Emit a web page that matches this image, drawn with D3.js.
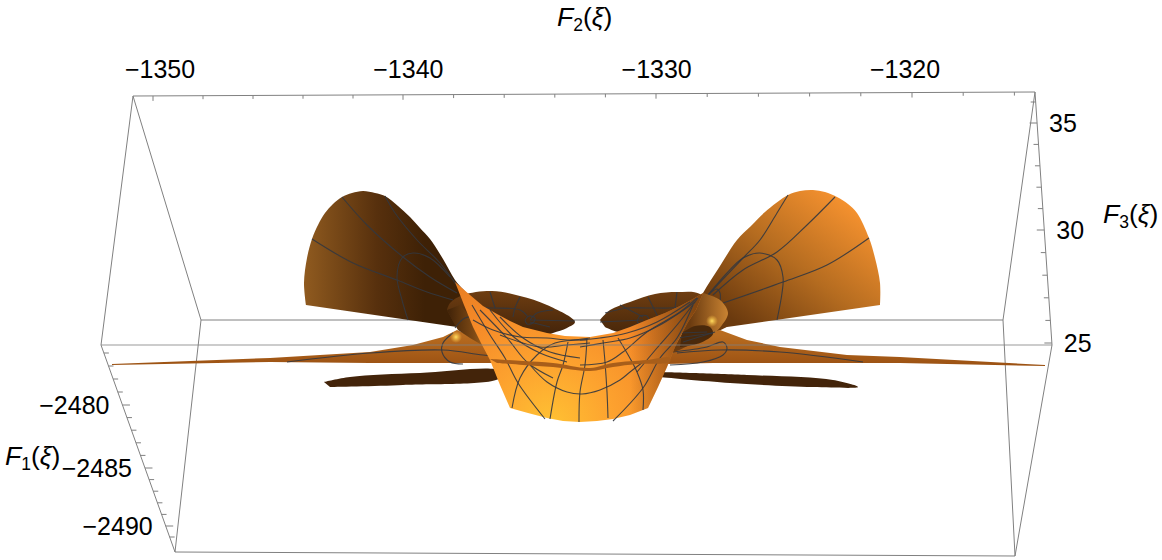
<!DOCTYPE html>
<html>
<head>
<meta charset="utf-8">
<script src="https://cdn.jsdelivr.net/npm/d3@7"></script>
<style>
  body { margin: 0; background: #fff; }
  text { font-family: "Liberation Sans", sans-serif; fill: #000; }
</style>
</head>
<body>
<div id="chart"></div>
<script>
// tick values on the three box edges
const f2Ticks = d3.range(-1350, -1315, 2)
const f2Labels = [-1350, -1340, -1330, -1320]
const f3Ticks = d3.range(25, 37)
const f3Labels = [25, 30, 35]
const f1Ticks = d3.range(-2476, -2492, -1)
const f1Labels = [-2480, -2485, -2490]

// box corners and surface pieces as [F2, F3] on the view plane
const boxA = [-1350.68, 37.2]
const boxB = [-1314.6, 37.4]
const boxC = [-1313.92, 24.75]
const boxD = [-1351.96, 24.75]
const boxE = [-1347.96, 26]
const boxF = [-1315.88, 26]
const boxG = [-1349, 14.4]
const boxH = [-1315.4, 14.2]

const leftWing = [[-1343.76,26.75],[-1343.84,27.85],[-1343.72,29.1],[-1343.52,30.05],[-1343.28,30.75],[-1343,31.35],[-1342.68,31.8],[-1342.32,32.15],[-1341.92,32.35],[-1341.48,32.45],[-1341,32.35],[-1340.6,32.2],[-1340.08,31.7],[-1339.6,31.15],[-1339.2,30.6],[-1338.8,30.05],[-1338.28,29.05],[-1337.8,28],[-1337.2,27],[-1337.4,25.75],[-1337.72,25.65]]
const rightWing = [[-1320.8,26.75],[-1320.8,27.85],[-1321,29.1],[-1321.24,30.1],[-1321.72,31.35],[-1322.08,31.8],[-1322.52,32.15],[-1323,32.4],[-1323.48,32.5],[-1324,32.45],[-1324.48,32.25],[-1325.4,31.4],[-1325.96,30.7],[-1326.52,30],[-1327.2,28.7],[-1327.88,27.35],[-1328.4,26],[-1328,25.25],[-1326.92,25.65]]
const leftDisc = [[-1338.12,26.5],[-1338,26.85],[-1337.48,27.25],[-1336.32,27.45],[-1335.2,27.2],[-1334.12,26.75],[-1333,25.9],[-1333.32,25.6],[-1333.88,25.35],[-1334.4,25.15],[-1335.2,25.25],[-1336.8,25.25],[-1337.8,25.75]]
const rightDisc = [[-1332,26],[-1331.6,26.5],[-1330.8,26.9],[-1329.8,27.3],[-1328.92,27.4],[-1328,27.3],[-1327.6,26.5],[-1328.4,25.5],[-1330,25.4],[-1331.28,25.4],[-1331.8,25.65]]
const leftTail = [[-1351.52,23.8],[-1345.2,24.1],[-1341.2,24.4],[-1339.48,24.75],[-1338.28,25.15],[-1337.72,25.5],[-1336.8,25],[-1336.2,23.85],[-1341.2,23.85],[-1345.2,23.9],[-1351.52,23.75]]
const rightTail = [[-1314.2,23.75],[-1320,24.15],[-1322.12,24.25],[-1324.8,24.65],[-1326.12,25],[-1327.2,25.5],[-1328,25.25],[-1329.2,24.75],[-1329.4,23.8],[-1327.48,23.85],[-1323.48,23.85],[-1320,23.85],[-1314.2,23.7]]
const lowerLeft = [[-1343.04,22.9],[-1342,23.15],[-1339.2,23.35],[-1336,23.45],[-1336,23.1],[-1339.88,22.75],[-1342.8,22.65]]
const lowerRight = [[-1329.6,23.4],[-1326.12,23.25],[-1322.68,23],[-1321.68,22.65],[-1323.48,22.65],[-1326.8,22.85],[-1329.6,23.15]]
const centreSheet = [[-1337.8,27.9],[-1337.2,27.25],[-1336.68,26.7],[-1336.12,26.3],[-1335.6,25.95],[-1335.08,25.65],[-1334.12,25.35],[-1333.4,25.2],[-1332.4,25.15],[-1331.48,25.35],[-1330.8,25.65],[-1330.12,26],[-1329.4,26.35],[-1328.8,26.7],[-1328.28,27.05],[-1327.88,27.35],[-1328.16,26.5],[-1328.48,25.9],[-1328.8,25.15],[-1329,24.65],[-1329.32,23.65],[-1329.68,22.65],[-1330.08,21.6],[-1330.8,21.25],[-1331.48,21.05],[-1332.12,20.95],[-1332.8,20.9],[-1333.48,20.95],[-1334.12,21.1],[-1334.88,21.35],[-1335.6,21.6],[-1336,22.75],[-1336.4,24],[-1336.76,24.85],[-1337.08,25.65],[-1337.44,26.75]]
const leftFunnel = [[-1338.12,26.5],[-1337.8,25.75],[-1337.68,25.5],[-1337.2,25.1],[-1336.72,24.75],[-1336.4,25.25],[-1337.12,26.1],[-1337.6,26.75]]
const rightFunnel = [[-1327.88,27.35],[-1327.2,27],[-1326.88,26.35],[-1327.12,25.75],[-1327.52,25.25],[-1328.4,24.75],[-1329.12,24.4],[-1328.8,25.15],[-1328.4,26.1]]
const rightHole = [[-1328.72,25.35],[-1328.2,25.7],[-1327.6,25.65],[-1327.48,25.3],[-1328,24.85],[-1328.8,24.65]]
const frontBand = [[-1336.4,24.05],[-1335.08,23.95],[-1333.88,23.85],[-1332.4,23.6],[-1331.48,23.85],[-1330.12,24],[-1329.2,24.1],[-1329.2,23.9],[-1330.52,23.8],[-1331.48,23.65],[-1332.4,23.45],[-1333.88,23.65],[-1335.08,23.75],[-1336.12,23.85]]
const leftSpot = [-1337.76, 25.15]
const rightSpot = [-1327.52, 25.95]

// mesh lines, grouped by the layer they sit on
const wingMesh = [
  [[-1342.32,32.15],[-1341.32,30.75],[-1339.88,29.15],[-1338.8,28.15],[-1337.72,27.35]],
  [[-1340.6,32.2],[-1340.2,31.35],[-1339.32,30],[-1338.4,28.85],[-1337.6,27.5]],
  [[-1343.52,30.05],[-1341.88,28.85],[-1340.12,28],[-1338.92,27.4],[-1337.88,27]],
  [[-1339.68,26],[-1339.92,27],[-1340.12,28.15],[-1339.92,29.1],[-1339.48,29.35],[-1338.8,29.1],[-1338,28.15]],
  [[-1324.48,32.25],[-1324.92,31.35],[-1325.6,30],[-1326.28,29.1],[-1327.68,27.25]],
  [[-1322.6,32.15],[-1323.72,30.75],[-1324.92,29.4],[-1326.28,28.5],[-1327.48,27.25]],
  [[-1321.24,30.1],[-1322.92,28.75],[-1324.68,27.9],[-1327.08,26.85]],
  [[-1324.92,26],[-1324.72,27.35],[-1324.68,28.15],[-1324.92,29],[-1325.6,29.35],[-1326.28,29.1],[-1326.92,28.35],[-1327.68,27.25]],
  [[-1327.68,27.25],[-1327.32,27.55],[-1327.2,27.35],[-1327.2,26.9]]
]
const discMesh = [
  [[-1331.8,26.35],[-1330.92,26.6],[-1330,26.6],[-1328.8,26.65],[-1328.12,27]],
  [[-1332,25.9],[-1330.28,26]],
  [[-1331.2,26.75],[-1330.28,26.15]],
  [[-1330.08,27.15],[-1329.68,26.15]],
  [[-1328.92,27.4],[-1329,26.6]],
  [[-1330.28,25.9],[-1331.08,25.5]],
  [[-1330.52,25.9],[-1330.4,26.2],[-1330.12,26.2],[-1330.04,25.9],[-1330.28,25.75],[-1330.52,25.9]],
  [[-1336.4,27.4],[-1336.2,26.6]],
  [[-1335.2,27.15],[-1335.4,26.6],[-1335.48,26.15]],
  [[-1334.8,26],[-1334.52,26.35],[-1333.88,26.5]],
  [[-1334.8,26],[-1333,25.95]],
  [[-1337.08,26.6],[-1336.28,26.6],[-1335.2,26.5],[-1334.88,26.15]],
  [[-1334.8,25.9],[-1334,25.65]],
  [[-1335,26],[-1334.84,26.2],[-1334.6,26.1],[-1334.68,25.85],[-1334.92,25.8],[-1335,26]]
]
const tailMesh = [
  [[-1344.52,23.9],[-1341.2,24.35],[-1338.28,24.5],[-1336.68,24.25],[-1334.8,24]],
  [[-1321.48,23.9],[-1324.8,24.4],[-1327.2,24.5],[-1328.92,24.35]],
  [[-1337.88,25.35],[-1338.28,24.85],[-1338.32,24.4],[-1338,23.9],[-1337.48,23.8]],
  [[-1329.08,24.4],[-1327.72,24.65],[-1327.08,24.9],[-1326.92,24.6],[-1327.08,24.25],[-1327.88,23.9],[-1329.2,23.75]]
]
const funnelMesh = [
  [[-1337.8,25.6],[-1337.4,26.1],[-1336.88,26.1],[-1336.4,25.4]],
  [[-1328.8,25.35],[-1327.72,25.4]],
  [[-1328.92,25.1],[-1327.48,25.35]],
  [[-1328.68,24.9],[-1327.4,25.4]]
]
const sheetMesh = [
  [[-1337.08,26],[-1336.28,25.5],[-1335.2,25.15],[-1334.12,25.1],[-1333.2,25],[-1332.4,25.1]],
  [[-1336,25.25],[-1334.4,24.65],[-1333.32,24.75],[-1332.4,24.85]],
  [[-1334.8,23.75],[-1334.12,22.9],[-1333.32,22.4],[-1332.72,22.3],[-1332,22.5],[-1331.2,23],[-1330.8,23.4],[-1330.28,23.9]],
  [[-1337.12,26.75],[-1336.4,25.25],[-1335.8,24.1],[-1335.28,22.85],[-1334.2,21.05]],
  [[-1336.8,26.5],[-1335.72,25.1],[-1334.88,23.85],[-1333.88,23.1]],
  [[-1336.4,26.5],[-1335.4,25.1],[-1334.4,24.35],[-1333.32,23.9]],
  [[-1336,26.15],[-1335.08,25.1],[-1334,24.4],[-1332.8,24.1]],
  [[-1332.52,25],[-1333.8,24.85],[-1334.52,24.25],[-1335.2,23.1],[-1335.52,21.6]],
  [[-1333.28,24.9],[-1333.48,23.75],[-1333.72,22.9],[-1334,21.05]],
  [[-1332.52,25.1],[-1332.6,23.75],[-1332.8,22.4],[-1332.84,20.9]],
  [[-1331.88,25],[-1331.8,23.9],[-1331.72,22.4],[-1331.68,21.1]],
  [[-1331.28,25.1],[-1330.92,24.35],[-1330.52,23.4],[-1330.28,22.5],[-1330.28,21.5]],
  [[-1331.48,20.95],[-1330.28,22.6],[-1329.6,24.1],[-1328.92,25.1],[-1328.28,26.75]],
  [[-1332.8,23.75],[-1331.72,23.9],[-1331.08,24.4],[-1330.12,25.4],[-1328.8,26.4],[-1328.12,27.1]],
  [[-1332.8,25],[-1332,25.1],[-1330.92,25.35],[-1329.72,25.9],[-1328.4,26.9]],
  [[-1332.8,24.65],[-1331.88,24.85],[-1330.8,25.1],[-1329.6,25.75],[-1328.2,26.9]],
  [[-1330.52,23.4],[-1329.72,24.6],[-1328.92,25.75],[-1328.08,27.1]]
]

const w = 1162
const h = 560

// view plane scales
const xView = d3.scaleLinear().domain([-1356, -1316]).range([0, 1000])
const yView = d3.scaleLinear().domain([42, 14]).range([0, 560])

// one scale per box edge, these edges are foreshortened so not quite linear
const f2X = d3.scaleLinear().domain([-1350, -1340, -1330, -1320]).range([153, 403, 656, 912])
const f2LabelX = d3.scaleLinear().domain([-1350, -1320]).range([160, 905])
const f3Y = d3.scaleLinear().domain([25, 30, 35, 36]).range([343, 230, 123, 102])
const f1Y = d3.scaleLinear().domain([-2476, -2480, -2485, -2490, -2491]).range([353, 405, 468, 526, 537])

const edgeX = (a, b, y) => {
  const t = (y - yView(a[1])) / (yView(b[1]) - yView(a[1]))
  return xView(a[0]) + t * (xView(b[0]) - xView(a[0]))
}
const edgeY = (a, b, x) => {
  const t = (x - xView(a[0])) / (xView(b[0]) - xView(a[0]))
  return yView(a[1]) + t * (yView(b[1]) - yView(a[1]))
}
const fmt = v => String(v).replace("-", "\u2212")

const svg = d3.select("#chart").append("svg")
  .attr("width", w)
  .attr("height", h)
  .style("display", "block")

const defs = svg.append("defs")

const linear = (id, x1, y1, x2, y2, stops) => {
  const g = defs.append("linearGradient").attr("id", id)
    .attr("gradientUnits", "userSpaceOnUse")
    .attr("x1", x1).attr("y1", y1).attr("x2", x2).attr("y2", y2)
  stops.forEach(s => g.append("stop").attr("offset", s[0]).attr("stop-color", s[1]).attr("stop-opacity", s[2] === undefined ? 1 : s[2]))
}
const radial = (id, cx, cy, r, stops) => {
  const g = defs.append("radialGradient").attr("id", id)
    .attr("gradientUnits", "userSpaceOnUse")
    .attr("cx", cx).attr("cy", cy).attr("r", r)
  stops.forEach(s => g.append("stop").attr("offset", s[0]).attr("stop-color", s[1]).attr("stop-opacity", s[2] === undefined ? 1 : s[2]))
}

linear("leftWingFill", 305, 0, 425, 0, [[0, "#8f5a1f"], [0.6, "#57300d"], [1, "#3e2106"]])
linear("rightWingFill", 840, 195, 740, 325, [[0, "#f6922f"], [0.5, "#b56c20"], [1, "#6b3a0e"]])
linear("leftDiscFill", 0, 291, 0, 335, [[0, "#6e3d11"], [1, "#43240a"]])
linear("rightDiscFill", 0, 292, 0, 332, [[0, "#6e3d11"], [1, "#4a280a"]])
linear("tailFill", 0, 335, 0, 365, [[0, "#b86c20"], [1, "#9c5213"]])
linear("leftFunnelFill", 447, 0, 490, 0, [[0, "#3f2208"], [0.6, "#7a4714"], [1, "#b06c22"]])
linear("rightFunnelFill", 690, 0, 728, 0, [[0, "#6b3b10"], [1, "#c98332"]])
radial("sheetFill", 550, 425, 175, [[0, "#ffc233"], [0.35, "#fda32f"], [0.7, "#f58a28"], [1, "#e87d22"]])
linear("sheetShade", 630, 0, 695, 0, [[0, "#6e3c0e", 0], [1, "#6e3c0e", 0.85]])
radial("leftSpotFill", xView(leftSpot[0]), yView(leftSpot[1]), 6, [[0, "#ffdc60"], [1, "#ffc040", 0]])
radial("rightSpotFill", xView(rightSpot[0]), yView(rightSpot[1]), 6, [[0, "#ffdc60"], [1, "#ffc040", 0]])

const frameLine = (g, a, b) => g.append("line")
  .attr("x1", xView(a[0])).attr("y1", yView(a[1]))
  .attr("x2", xView(b[0])).attr("y2", yView(b[1]))
  .attr("stroke", "#808080")
  .attr("stroke-width", 1)

// back of the box, goes behind the surface
const back = svg.append("g")
frameLine(back, boxE, boxF)
frameLine(back, boxA, boxE)
frameLine(back, boxB, boxF)
frameLine(back, boxE, boxG)
frameLine(back, boxF, boxH)

const smooth = d3.line().x(d => xView(d[0])).y(d => yView(d[1])).curve(d3.curveCatmullRom.alpha(0.5))
const straight = d3.line().x(d => xView(d[0])).y(d => yView(d[1]))

const surface = svg.append("g")

const piece = (data, fill, gen) => surface.append("path")
  .attr("d", gen(data) + "Z")
  .attr("fill", fill)

const mesh = lines => surface.append("g")
  .selectAll("path")
  .data(lines)
  .join("path")
  .attr("d", smooth)
  .attr("fill", "none")
  .attr("stroke", "#33373f")
  .attr("stroke-width", 1.1)
  .attr("stroke-opacity", 0.9)

piece(leftWing, "url(#leftWingFill)", smooth)
piece(rightWing, "url(#rightWingFill)", smooth)
mesh(wingMesh)
piece(leftDisc, "url(#leftDiscFill)", smooth)
piece(rightDisc, "url(#rightDiscFill)", smooth)
mesh(discMesh)
piece(lowerLeft, "#43240a", smooth)
piece(lowerRight, "#43240a", smooth)
piece(leftTail, "url(#tailFill)", straight)
piece(rightTail, "url(#tailFill)", straight)
mesh(tailMesh)
piece(leftFunnel, "url(#leftFunnelFill)", straight)
piece(rightFunnel, "url(#rightFunnelFill)", smooth)
piece(rightHole, "#4a290b", smooth)
surface.append("circle").attr("cx", xView(leftSpot[0])).attr("cy", yView(leftSpot[1])).attr("r", 6).attr("fill", "url(#leftSpotFill)")
surface.append("circle").attr("cx", xView(rightSpot[0])).attr("cy", yView(rightSpot[1])).attr("r", 6).attr("fill", "url(#rightSpotFill)")
mesh(funnelMesh)
piece(centreSheet, "url(#sheetFill)", straight)
piece(centreSheet, "url(#sheetShade)", straight)
mesh(sheetMesh)
piece(frontBand, "#a85e1a", smooth)

// front of the box, drawn over the surface
const front = svg.append("g")
frameLine(front, boxA, boxB)
frameLine(front, boxA, boxD)
frameLine(front, boxB, boxC)
frameLine(front, boxD, boxC).attr("stroke-opacity", 0.8)
frameLine(front, boxD, boxG)
frameLine(front, boxC, boxH)
frameLine(front, boxG, boxH)

// ticks
const ticks = svg.append("g").attr("stroke", "#808080").attr("stroke-width", 1)

ticks.selectAll(".f2").data(f2Ticks).join("line")
  .attr("class", "f2")
  .attr("x1", d => f2X(d))
  .attr("x2", d => f2X(d))
  .attr("y1", d => edgeY(boxA, boxB, f2X(d)))
  .attr("y2", d => edgeY(boxA, boxB, f2X(d)) + (f2Labels.includes(d) ? 5 : 3.5))

ticks.selectAll(".f3").data(f3Ticks).join("line")
  .attr("class", "f3")
  .attr("x1", d => edgeX(boxB, boxC, f3Y(d)))
  .attr("x2", d => edgeX(boxB, boxC, f3Y(d)) - (f3Labels.includes(d) ? 7.5 : 5))
  .attr("y1", d => f3Y(d))
  .attr("y2", d => f3Y(d))

ticks.selectAll(".f1").data(f1Ticks).join("line")
  .attr("class", "f1")
  .attr("x1", d => edgeX(boxD, boxG, f1Y(d)))
  .attr("x2", d => edgeX(boxD, boxG, f1Y(d)) + (f1Labels.includes(d) ? 7.5 : 5))
  .attr("y1", d => f1Y(d))
  .attr("y2", d => f1Y(d))

// tick labels
const fontSize = 25
svg.selectAll(".f2Label").data(f2Labels).join("text")
  .attr("class", "f2Label")
  .attr("x", d => f2LabelX(d))
  .attr("y", 78)
  .attr("text-anchor", "middle")
  .attr("font-size", fontSize)
  .text(fmt)

svg.selectAll(".f3Label").data(f3Labels).join("text")
  .attr("class", "f3Label")
  .attr("x", d => edgeX(boxB, boxC, f3Y(d)) + 12)
  .attr("y", d => f3Y(d) + 9)
  .attr("font-size", fontSize)
  .text(fmt)

svg.selectAll(".f1Label").data(f1Labels).join("text")
  .attr("class", "f1Label")
  .attr("x", d => edgeX(boxD, boxG, f1Y(d)) - 13)
  .attr("y", d => f1Y(d) + 9)
  .attr("text-anchor", "end")
  .attr("font-size", fontSize)
  .text(fmt)

// axis titles F_n(xi)
const axisTitle = (x, y, n) => {
  const t = svg.append("text").attr("x", x).attr("y", y).attr("font-size", 26.5)
  t.append("tspan").attr("font-style", "italic").text("F")
  t.append("tspan").attr("font-size", 17.5).attr("dy", 5).text(n)
  t.append("tspan").attr("dy", -5).text("(")
  t.append("tspan").attr("font-style", "italic").text("\u03be")
  t.append("tspan").text(")")
}
axisTitle(557, 26, 2)
axisTitle(1103, 223, 3)
axisTitle(5, 465, 1)
</script>
</body>
</html>
